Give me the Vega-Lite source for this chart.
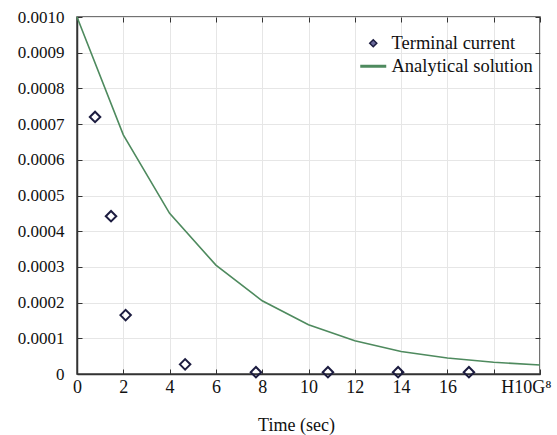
{
  "$schema": "https://vega.github.io/schema/vega-lite/v6.json",
  "width": 463,
  "height": 357,
  "autosize": {"type": "none"},
  "padding": {"left": 77, "top": 17, "right": 17, "bottom": 61},
  "background": "white",
  "config": {
    "view": {"stroke": "#444", "strokeWidth": 1.5},
    "font": "Liberation Serif, Times New Roman, serif",
    "axis": {
      "labelFont": "Liberation Serif, Times New Roman, serif",
      "labelFontSize": 17,
      "labelColor": "#111",
      "titleFont": "Liberation Serif, Times New Roman, serif",
      "titleFontWeight": "normal",
      "titleColor": "#111",
      "gridColor": "#e6e6e6",
      "gridWidth": 1,
      "domainColor": "#333",
      "domainWidth": 1.5,
      "tickColor": "#333",
      "tickWidth": 1
    },
    "legend": {
      "labelFont": "Liberation Serif, Times New Roman, serif"
    }
  },
  "datasets": {
    "analytical": [
      {"t": 0, "current": 0.001, "series": "Analytical solution"},
      {"t": 2, "current": 0.00067, "series": "Analytical solution"},
      {"t": 4, "current": 0.00045, "series": "Analytical solution"},
      {"t": 6, "current": 0.000305, "series": "Analytical solution"},
      {"t": 8, "current": 0.000205, "series": "Analytical solution"},
      {"t": 10, "current": 0.000138, "series": "Analytical solution"},
      {"t": 12, "current": 0.000093, "series": "Analytical solution"},
      {"t": 14, "current": 0.000063, "series": "Analytical solution"},
      {"t": 16, "current": 0.000045, "series": "Analytical solution"},
      {"t": 18, "current": 0.000033, "series": "Analytical solution"},
      {"t": 20, "current": 0.000025, "series": "Analytical solution"}
    ],
    "terminal": [
      {"t": 0.78, "current": 0.00072, "series": "Terminal current"},
      {"t": 1.47, "current": 0.000442, "series": "Terminal current"},
      {"t": 2.1, "current": 0.000165, "series": "Terminal current"},
      {"t": 4.67, "current": 0.000027, "series": "Terminal current"},
      {"t": 7.73, "current": 0.000005, "series": "Terminal current"},
      {"t": 10.84, "current": 0.000005, "series": "Terminal current"},
      {"t": 13.87, "current": 0.000005, "series": "Terminal current"},
      {"t": 16.93, "current": 0.000005, "series": "Terminal current"}
    ]
  },
  "encoding": {
    "x": {"field": "t", "type": "quantitative", "scale": {"domain": [0, 20], "nice": false, "zero": false}},
    "y": {"field": "current", "type": "quantitative", "scale": {"domain": [0, 0.001], "nice": false}},
    "color": {
      "field": "series",
      "type": "nominal",
      "scale": {"domain": ["Terminal current", "Analytical solution"], "range": ["#1c1c40", "#4e8a5e"]},
      "legend": {
        "title": null,
        "orient": "none",
        "legendX": 287,
        "legendY": 17,
        "labelFont": "Liberation Serif, Times New Roman, serif",
        "labelFontSize": 18.5,
        "labelColor": "#111",
        "labelOffset": 9,
        "rowPadding": 4,
        "symbolSize": 676,
        "encode": {
          "symbols": {
            "update": {
              "shape": {"signal": "datum.value === 'Terminal current' ? 'diamond' : 'stroke'"},
              "size": {"signal": "datum.value === 'Terminal current' ? 50 : 676"},
              "fill": {"signal": "datum.value === 'Terminal current' ? '#6a6a9a' : 'transparent'"},
              "stroke": {"signal": "datum.value === 'Terminal current' ? '#9a9ac0' : '#4e8a5e'"},
              "strokeWidth": {"signal": "datum.value === 'Terminal current' ? 1.5 : 3"},
              "opacity": {"value": 1}
            }
          }
        }
      }
    }
  },
  "layer": [
    {
      "data": {"name": "analytical"},
      "mark": {"type": "line", "strokeWidth": 1.6},
      "encoding": {
        "x": {
          "field": "t", "type": "quantitative",
          "axis": {
            "title": "Time (sec)",
            "titleFont": "Liberation Serif, Times New Roman, serif",
            "titleFontSize": 18,
            "titlePadding": 20,
            "titleX": 219,
            "labelFont": "Liberation Serif, Times New Roman, serif",
            "labelFontSize": 18,
            "labelFlush": false,
            "values": [0, 2, 4, 6, 8, 10, 12, 14, 16, 18, 20],
            "labelExpr": "datum.value == 20 ? 'H10G⁸' : (datum.value == 18 ? '' : datum.label)",
            "labelOffset": {"condition": {"test": "datum.value == 20", "value": -14}, "value": 0},
            "tickSize": -5,
            "labelPadding": 9,
            "grid": true
          }
        },
        "y": {
          "field": "current", "type": "quantitative",
          "axis": {
            "title": null,
            "labelFont": "Liberation Serif, Times New Roman, serif",
            "values": [0, 0.0001, 0.0002, 0.0003, 0.0004, 0.0005, 0.0006, 0.0007, 0.0008, 0.0009, 0.001],
            "labelExpr": "datum.value == 0 ? '0' : format(datum.value, '.4f')",
            "tickSize": -5,
            "labelPadding": 18,
            "grid": true
          }
        }
      }
    },
    {
      "data": {"name": "terminal"},
      "mark": {"type": "point", "shape": "diamond", "filled": false, "size": 110, "strokeWidth": 2, "opacity": 1},
      "encoding": {
        "x": {
          "field": "t", "type": "quantitative",
          "axis": {"orient": "top", "title": null, "labels": false, "grid": false, "tickSize": -5, "domain": false, "values": [0, 2, 4, 6, 8, 10, 12, 14, 16, 18, 20]}
        },
        "y": {
          "field": "current", "type": "quantitative",
          "axis": {"orient": "right", "title": null, "labels": false, "grid": false, "tickSize": -5, "domain": false, "values": [0, 0.0001, 0.0002, 0.0003, 0.0004, 0.0005, 0.0006, 0.0007, 0.0008, 0.0009, 0.001]}
        }
      }
    }
  ],
  "resolve": {"axis": {"x": "independent", "y": "independent"}}
}
